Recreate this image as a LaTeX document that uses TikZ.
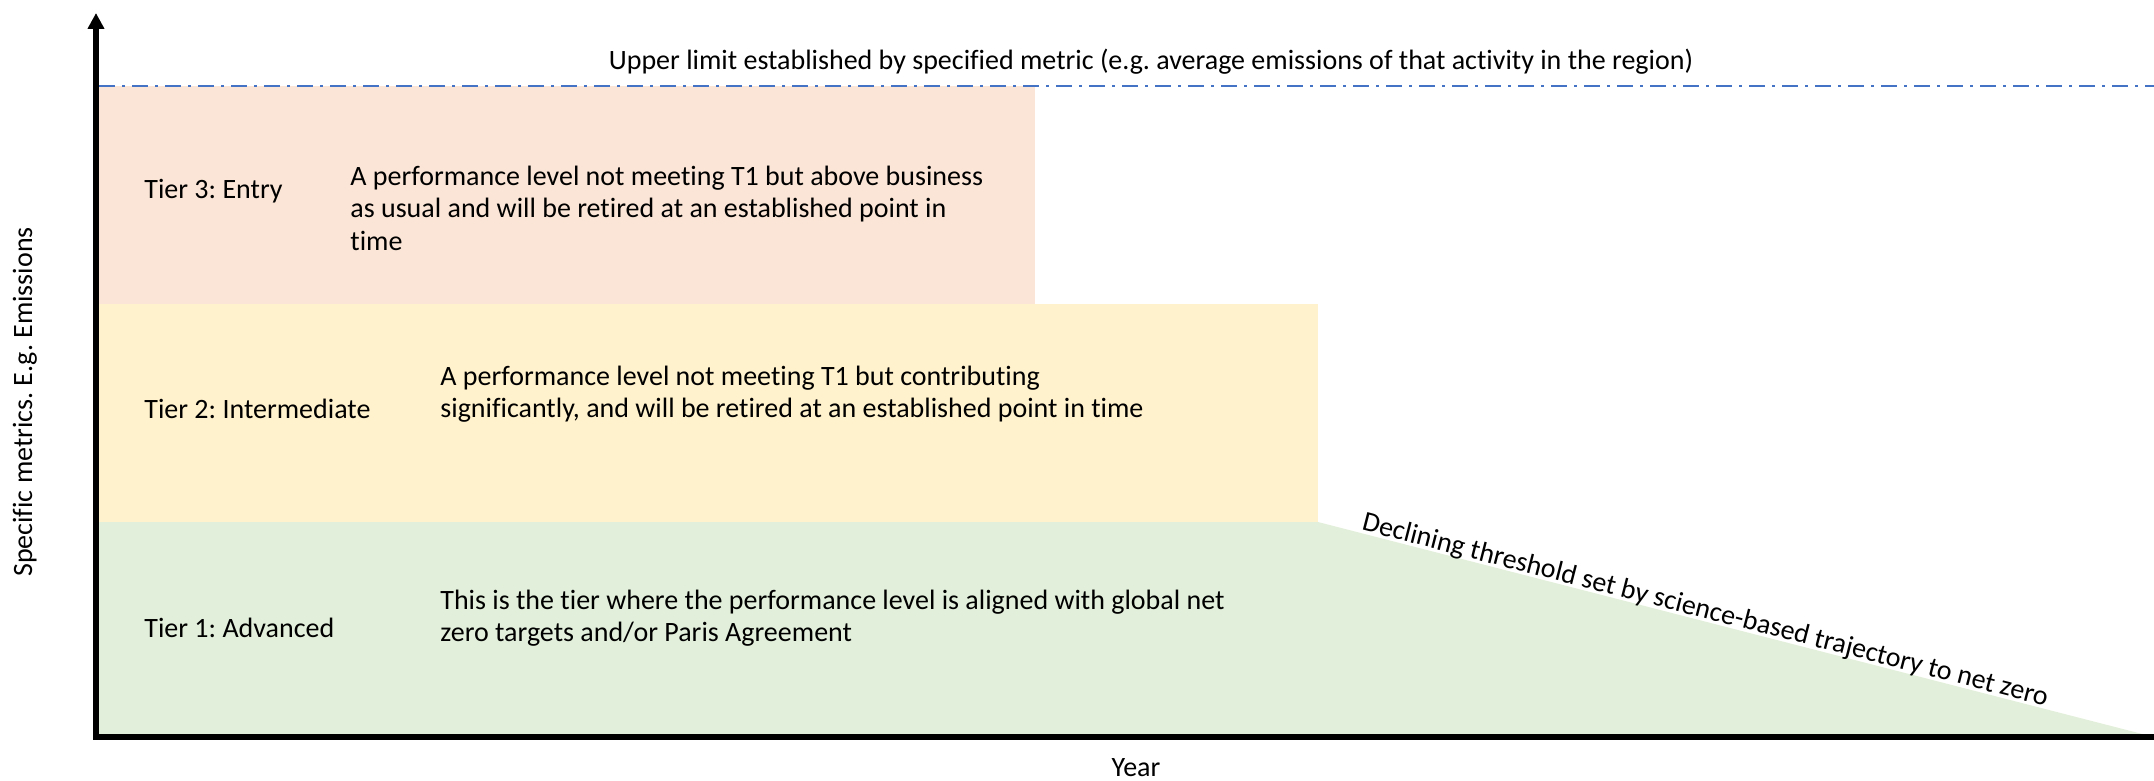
\documentclass[tikz,border=0pt]{standalone}
\usepackage{fontspec}
\setmainfont{Carlito}[Ligatures=CommonOff]
\usetikzlibrary{arrows.meta}
\frenchspacing

\definecolor{entryfill}{HTML}{FBE5D6}
\definecolor{interfill}{HTML}{FFF2CC}
\definecolor{advfill}{HTML}{E2EFDA}
\definecolor{limitblue}{HTML}{4472C4}

\begin{document}
\begin{tikzpicture}[x=0.5pt,y=-0.5pt,
    every node/.style={font=\fontsize{14pt}{16.3pt}\selectfont, inner sep=0pt},
    tierlabel/.style={anchor=west},
    tierdesc/.style={anchor=west, align=left},
    axis/.style={line width=3pt, line join=miter}]
  \useasboundingbox (0,0) rectangle (2154,781);

  \coordinate (origin) at (96,737);
  \coordinate (ytop)   at (96,13);
  \coordinate (xend)   at (2154,737);
  \coordinate (t1top)  at (1318,522);

  % coloured bands
  \fill[entryfill] (99,86)  rectangle (1035,304);
  \fill[interfill] (99,304) rectangle (t1top);
  \fill[advfill]   (99,522) -- (t1top) -- (xend) -- (99,737) -- cycle;

  % upper limit
  \draw[limitblue, line width=1pt, dash pattern=on 8pt off 3.5pt on 1.5pt off 3.5pt] (99,86) -- (2154,86);
  \node (limit) at (1151,62) {Upper limit established by specified metric (e.g. average emissions of that activity in the region)};

  % axes
  \draw[axis, -{Triangle[width=8pt,length=8pt]}] (xend) -- (origin) -- (ytop);
  \node (ylabel) at (25,402) [rotate=90] {Specific metrics. E.g. Emissions};
  \node (xlabel) at (1136,768) {Year};

  % tiers
  \node (tierthree)     at (144,191) [tierlabel] {Tier 3: Entry};
  \node (tierthreetext) at (350,208) [tierdesc]  {A performance level not meeting T1 but above business\\as usual and will be retired at an established point in\\time};
  \node (tiertwo)       at (144,409) [tierlabel] {Tier 2: Intermediate};
  \node (tiertwotext)   at (440,394) [tierdesc]  {A performance level not meeting T1 but contributing\\significantly, and will be retired at an established point in time};
  \node (tierone)       at (144,628) [tierlabel] {Tier 1: Advanced};
  \node (tieronetext)   at (440,618) [tierdesc]  {This is the tier where the performance level is aligned with global net\\zero targets and/or Paris Agreement};

  % declining threshold
  \path (t1top) -- (xend) node (decline) [pos=0.46, sloped, anchor=base, yshift=1.5pt] {Declining threshold set by science-based trajectory to net zero};
\end{tikzpicture}
\end{document}
